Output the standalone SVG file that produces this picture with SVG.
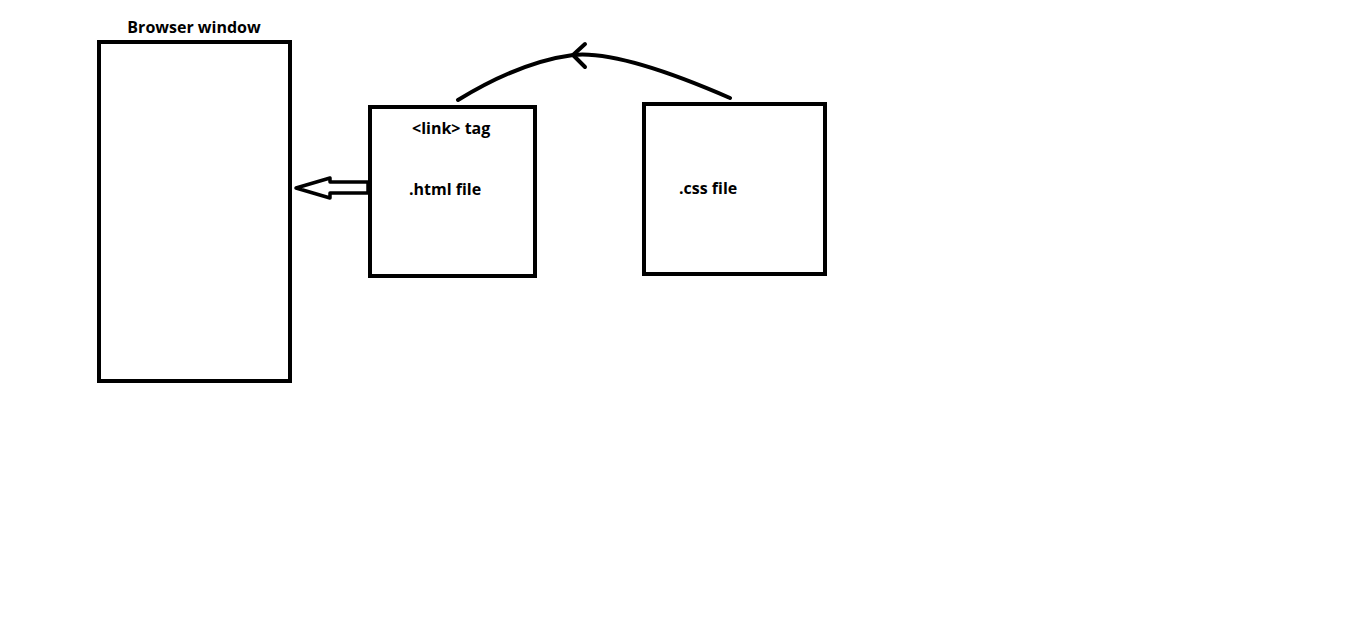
<svg xmlns="http://www.w3.org/2000/svg" width="1360" height="623" viewBox="0 0 1360 623">
<style>
.box{fill:none;stroke:#000;stroke-width:4}
.lbl{font-family:"Open Sans","Liberation Sans",sans-serif;font-weight:bold;font-size:16px;fill:#000}
.con{fill:none;stroke:#000;stroke-width:4;stroke-linecap:round;stroke-linejoin:round}
</style>
<rect width="1360" height="623" fill="#fff"/>
<g id="browser">
<rect class="box" x="99" y="42" width="191" height="339"/>
<text class="lbl" x="194" y="33" text-anchor="middle">Browser window</text>
</g>
<g id="html">
<rect class="box" x="370" y="107" width="165" height="169"/>
<text class="lbl" x="412" y="134">&lt;link&gt; tag</text>
<text class="lbl" x="409" y="195">.html file</text>
</g>
<g id="css">
<rect class="box" x="644" y="104" width="181" height="170"/>
<text class="lbl" x="679" y="194">.css file</text>
</g>
<g id="connectors">
<polygon points="296,188 330,178 330,182 368,182 368,193 330,193 330,198" fill="none" stroke="#000" stroke-width="3.5" stroke-linejoin="round"/>
<path class="con" d="M458,100 Q520,62 573,55 Q620,50 730,98"/>
<path class="con" d="M585,44 L573,55 L585,67"/>
</g>
</svg>
